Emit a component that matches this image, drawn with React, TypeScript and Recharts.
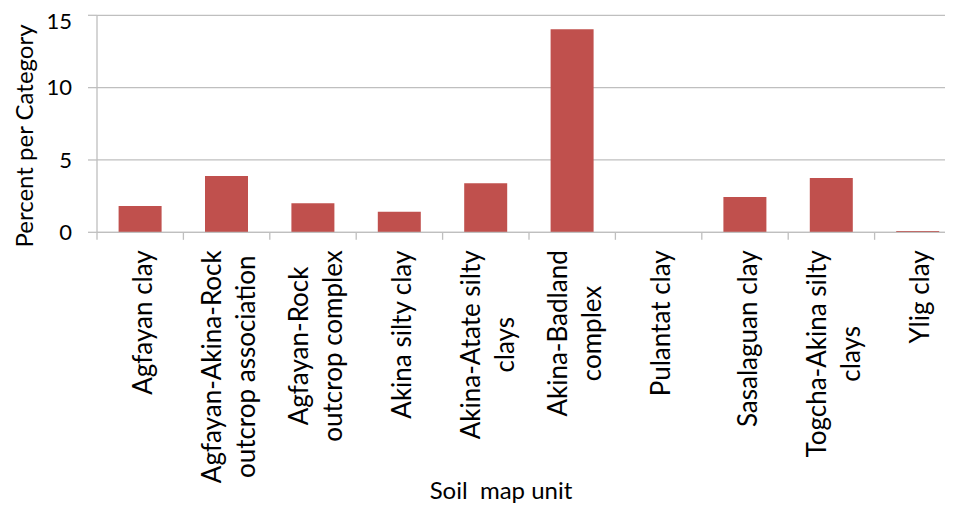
import React from 'react';
import { BarChart, Bar, XAxis, YAxis, CartesianGrid, Label } from 'recharts';

const categories: string[] = [
  'Agfayan clay',
  'Agfayan-Akina-Rock outcrop association',
  'Agfayan-Rock outcrop complex',
  'Akina silty clay',
  'Akina-Atate silty clays',
  'Akina-Badland complex',
  'Pulantat clay',
  'Sasalaguan clay',
  'Togcha-Akina silty clays',
  'Ylig clay',
];

const labelLines: string[][] = [
  ['Agfayan clay'],
  ['Agfayan-Akina-Rock', 'outcrop association'],
  ['Agfayan-Rock', 'outcrop complex'],
  ['Akina silty clay'],
  ['Akina-Atate silty', 'clays'],
  ['Akina-Badland', 'complex'],
  ['Pulantat clay'],
  ['Sasalaguan clay'],
  ['Togcha-Akina silty', 'clays'],
  ['Ylig clay'],
];

const percentValues: number[] = [1.82, 3.89, 2.0, 1.42, 3.39, 14.03, 0, 2.44, 3.75, 0.09];

const yTicks: number[] = [0, 5, 10, 15];

const data = categories.map((c, i) => ({ name: c, value: percentValues[i] }));

const CHART_W = 953;
const CHART_H = 500;
const Y_AXIS_W = 89;
const MARGIN = { top: 7.3, right: 0, bottom: 0, left: 0 };
const X_AXIS_H = 275.7;
const PLOT_BOTTOM = CHART_H - MARGIN.bottom - X_AXIS_H;
const STEP = (CHART_W - MARGIN.left - MARGIN.right - Y_AXIS_W) / categories.length;
const FONT = 'Lato, "Open Sans", sans-serif';
const TICK_FS = 22;
const TITLE_FS = 24;
const CAT_FS = 26;
const GRAY = '#BFBFBF';

let ctx: CanvasRenderingContext2D | null = null;
const measure = (s: string): number => {
  if (typeof document === 'undefined') return s.length * CAT_FS * 0.5;
  if (!ctx) ctx = document.createElement('canvas').getContext('2d');
  if (!ctx) return s.length * CAT_FS * 0.5;
  ctx.font = `${CAT_FS}px Lato`;
  return ctx.measureText(s).width;
};

const CategoryTick = (props: any) => {
  const { x, index, payload } = props;
  const idx = typeof index === 'number' ? index : categories.indexOf(payload.value);
  const lines = labelLines[idx] || [String(payload.value)];
  const maxW = Math.max(...lines.map(measure));
  const cy = PLOT_BOTTOM + 18 + maxW / 2;
  const lineGap = 34;
  const n = lines.length;
  return (
    <g>
      <line x1={x - STEP / 2} x2={x - STEP / 2} y1={PLOT_BOTTOM} y2={PLOT_BOTTOM + 7.5} stroke={GRAY} strokeWidth={1.3} />
      {idx === categories.length - 1 && (
        <line x1={x + STEP / 2} x2={x + STEP / 2} y1={PLOT_BOTTOM} y2={PLOT_BOTTOM + 7.5} stroke={GRAY} strokeWidth={1.3} />
      )}
      {lines.map((l, i) => {
        const lx = x + 1.5 + (i - (n - 1) / 2) * lineGap;
        return (
          <text
            key={i}
            transform={`translate(${lx}, ${cy}) rotate(-90)`}
            textAnchor="middle"
            dominantBaseline="central"
            fontSize={CAT_FS}
            fontFamily={FONT}
            fill="#000"
          >
            {l}
          </text>
        );
      })}
    </g>
  );
};

const YTitle = () => (
  <text
    transform={`translate(15, 128) rotate(-90)`}
    textAnchor="middle"
    dominantBaseline="central"
    fontSize={TITLE_FS}
    fontFamily={FONT}
    fill="#000"
  >
    Percent per Category
  </text>
);

const XTitle = () => (
  <text
    x={493}
    y={481}
    textAnchor="middle"
    dominantBaseline="central"
    fontSize={TITLE_FS}
    fontFamily={FONT}
    fill="#000"
    style={{ whiteSpace: 'pre' }}
  >
    {'Soil  map unit'}
  </text>
);

export default function App() {
  return (
    <div style={{ width: 945, height: CHART_H, overflow: 'hidden', marginRight: -8 }}>
      <BarChart
        width={CHART_W}
        height={CHART_H}
        data={data}
        margin={MARGIN}
        barCategoryGap="25%"
      >
        <CartesianGrid vertical={false} stroke={GRAY} strokeWidth={1.3} />
        <XAxis
          dataKey="name"
          interval={0}
          height={X_AXIS_H}
          axisLine={{ stroke: GRAY, strokeWidth: 1.3 }}
          tickLine={false}
          tick={<CategoryTick />}
        >
          <Label content={<XTitle />} />
        </XAxis>
        <YAxis
          type="number"
          domain={[0, 15]}
          ticks={yTicks}
          width={Y_AXIS_W}
          axisLine={{ stroke: GRAY, strokeWidth: 1.3 }}
          tickLine={{ stroke: GRAY, strokeWidth: 1.3 }}
          tickSize={9}
          tickMargin={16}
          tick={{ fontSize: TICK_FS, fontFamily: FONT, fill: '#000' }}
        >
          <Label content={<YTitle />} />
        </YAxis>
        <Bar dataKey="value" fill="#C0504D" isAnimationActive={false} />
      </BarChart>
    </div>
  );
}
